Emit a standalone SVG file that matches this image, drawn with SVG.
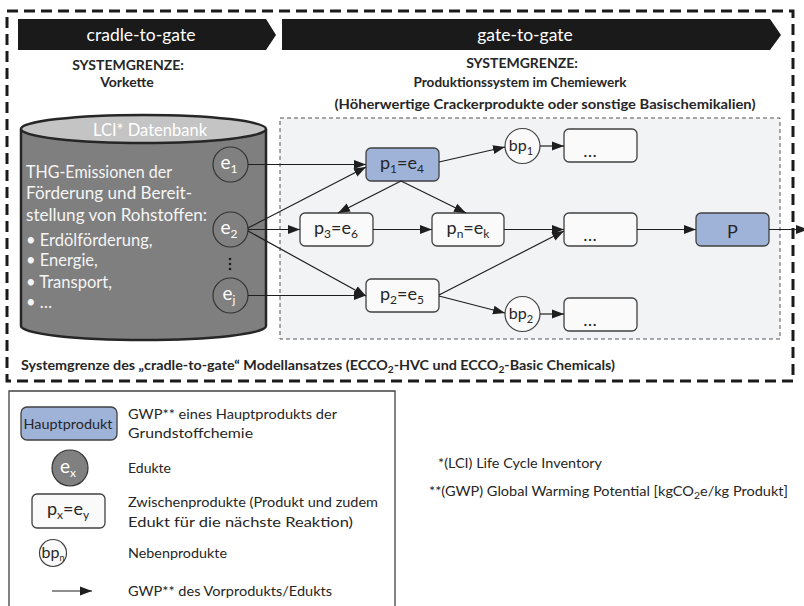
<svg xmlns="http://www.w3.org/2000/svg" width="804" height="606" viewBox="0 0 804 606">
<defs>
<marker id="ah" markerUnits="userSpaceOnUse" markerWidth="12" markerHeight="10" refX="12" refY="5" orient="auto">
<path d="M0,0.5 L12,5 L0,9.5 z" fill="#1e1e1e"/>
</marker>
<style>
text{font-family:Lato,"Open Sans","Liberation Sans",sans-serif;}
.ban{fill:#1a1a1a;}
.bant{fill:#fff;font-size:17.5px;text-anchor:middle;}
.hd{fill:#262626;font-size:14px;font-weight:bold;text-anchor:middle;}
.box{fill:#fafafa;stroke:#404040;stroke-width:1.3;}
.main{fill:#9fb3d9;stroke:#404040;stroke-width:1.3;}
.lbl{fill:#262626;font-size:18px;text-anchor:middle;}
.ecirc{fill:#808080;stroke:#333;stroke-width:1.2;}
.etxt{fill:#fff;font-size:19px;text-anchor:middle;}
.bpc{fill:#fafafa;stroke:#404040;stroke-width:1.2;}
.bpt{fill:#262626;font-size:16px;text-anchor:middle;}
.cyl{fill:#7f7f7f;stroke:#262626;stroke-width:2.5;}
.cyt{fill:#f5f5f5;font-size:16.5px;}
.con{stroke:#1e1e1e;stroke-width:1.2;fill:none;marker-end:url(#ah);}
.leg{fill:#262626;font-size:14px;}
</style>
</defs>
<rect width="804" height="606" fill="#fff"/>

<g id="frame">
<rect x="7" y="11" width="786" height="370" fill="none" stroke="#1a1a1a" stroke-width="3" stroke-dasharray="11,6"/>
</g>

<g id="banner-cradle">
<polygon class="ban" points="18,19 266,19 276,35 266,50 18,50"/>
<text class="bant" x="141" y="41">cradle-to-gate</text>
</g>
<g id="banner-gate">
<polygon class="ban" points="282,19 770,19 781,35 770,50 282,50"/>
<text class="bant" x="525" y="41">gate-to-gate</text>
</g>

<g id="label-vorkette">
<text class="hd" x="128" y="70">SYSTEMGRENZE:</text>
<text class="hd" x="127" y="87">Vorkette</text>
</g>
<g id="label-produktion">
<text class="hd" x="522" y="68">SYSTEMGRENZE:</text>
<text class="hd" x="520" y="87" textLength="213" lengthAdjust="spacingAndGlyphs">Produktionssystem im Chemiewerk</text>
<text class="hd" x="545" y="109" textLength="421" lengthAdjust="spacingAndGlyphs">(Höherwertige Crackerprodukte oder sonstige Basischemikalien)</text>
</g>

<g id="system-box">
<rect x="280" y="118" width="500" height="221" fill="#f2f3f5" stroke="#555" stroke-width="1" stroke-dasharray="4,3"/>
</g>

<g id="lci-db">
<path class="cyl" d="M21,129 L21,326 A122.5,14 0 0 0 266,326 L266,129"/>
<ellipse cx="143.5" cy="129" rx="122.5" ry="14" fill="#c4c4c4" stroke="#262626" stroke-width="2.5"/>
<text x="150" y="136" fill="#fff" font-size="16.5px" text-anchor="middle">LCI* Datenbank</text>
<text class="cyt" x="26" y="178" textLength="146" lengthAdjust="spacingAndGlyphs">THG-Emissionen der</text>
<text class="cyt" x="26" y="199" textLength="166" lengthAdjust="spacingAndGlyphs">Förderung und Bereit-</text>
<text class="cyt" x="26" y="221" textLength="181" lengthAdjust="spacingAndGlyphs">stellung von Rohstoffen:</text>
<text class="cyt" x="26" y="246">• Erdölförderung,</text>
<text class="cyt" x="26" y="266">• Energie,</text>
<text class="cyt" x="26" y="288">• Transport,</text>
<text class="cyt" x="26" y="308">• …</text>
<circle cx="230" cy="259" r="1.3" fill="#1e1e1e"/>
<circle cx="230" cy="264" r="1.3" fill="#1e1e1e"/>
<circle cx="230" cy="269" r="1.3" fill="#1e1e1e"/>
</g>

<g id="e1"><circle class="ecirc" cx="230.5" cy="164.5" r="17.5"/><text class="etxt" x="229" y="169">e<tspan dy="4" font-size="12">1</tspan></text></g>
<g id="e2"><circle class="ecirc" cx="230.5" cy="229.5" r="17.5"/><text class="etxt" x="229" y="234">e<tspan dy="4" font-size="12">2</tspan></text></g>
<g id="ej"><circle class="ecirc" cx="230.5" cy="295.5" r="17.5"/><text class="etxt" x="229" y="300">e<tspan dy="4" font-size="12">j</tspan></text></g>

<g id="p1"><rect class="main" x="366" y="148" width="73" height="33" rx="5"/><text class="lbl" x="402" y="169">p<tspan dy="4" font-size="12">1</tspan><tspan dy="-4">=e</tspan><tspan dy="4" font-size="12">4</tspan></text></g>
<g id="p3"><rect class="box" x="300" y="213" width="73" height="33" rx="5"/><text class="lbl" x="336" y="234">p<tspan dy="4" font-size="12">3</tspan><tspan dy="-4">=e</tspan><tspan dy="4" font-size="12">6</tspan></text></g>
<g id="pn"><rect class="box" x="432" y="213" width="72" height="33" rx="5"/><text class="lbl" x="468" y="234">p<tspan dy="4" font-size="12">n</tspan><tspan dy="-4">=e</tspan><tspan dy="4" font-size="12">k</tspan></text></g>
<g id="p2"><rect class="box" x="366" y="279" width="73" height="33" rx="5"/><text class="lbl" x="402" y="300">p<tspan dy="4" font-size="12">2</tspan><tspan dy="-4">=e</tspan><tspan dy="4" font-size="12">5</tspan></text></g>

<g id="bp1"><circle class="bpc" cx="522.5" cy="146" r="17.5"/><text class="bpt" x="521" y="151">bp<tspan dy="4" font-size="11">1</tspan></text></g>
<g id="bp2"><circle class="bpc" cx="522.5" cy="314" r="17.5"/><text class="bpt" x="521" y="319">bp<tspan dy="4" font-size="11">2</tspan></text></g>

<g id="x1"><rect class="box" x="564" y="129" width="73" height="33" rx="5"/><text class="lbl" x="590" y="157">…</text></g>
<g id="x2"><rect class="box" x="564" y="213" width="73" height="33" rx="5"/><text class="lbl" x="590" y="241">…</text></g>
<g id="x3"><rect class="box" x="564" y="298" width="73" height="33" rx="5"/><text class="lbl" x="590" y="326">…</text></g>

<g id="P"><rect class="main" x="696" y="213" width="73" height="33" rx="5"/><text class="lbl" x="732.5" y="238" font-size="22px">P</text></g>

<g id="connectors">
<line class="con" x1="248" y1="164.5" x2="366" y2="164.5"/>
<line class="con" x1="248" y1="228" x2="366" y2="167"/>
<line class="con" x1="248" y1="229.5" x2="300" y2="229.5"/>
<line class="con" x1="248" y1="231" x2="366" y2="296"/>
<line class="con" x1="248" y1="295.5" x2="366" y2="295.5"/>
<line class="con" x1="401" y1="181" x2="338" y2="213"/>
<line class="con" x1="401" y1="181" x2="466" y2="213"/>
<line class="con" x1="373" y1="229.5" x2="432" y2="229.5"/>
<line class="con" x1="439" y1="162" x2="505" y2="147"/>
<line class="con" x1="540" y1="146" x2="564" y2="146"/>
<line class="con" x1="504" y1="229.5" x2="564" y2="229.5"/>
<line class="con" x1="439" y1="295" x2="564" y2="231"/>
<line class="con" x1="439" y1="296" x2="505" y2="313"/>
<line class="con" x1="540" y1="314" x2="564" y2="314"/>
<line class="con" x1="637" y1="229.5" x2="696" y2="229.5"/>
<line class="con" x1="769" y1="229.5" x2="808" y2="229.5"/>
</g>

<g id="boundary-label">
<text x="21" y="370" fill="#262626" font-size="14px" font-weight="bold" textLength="594" lengthAdjust="spacingAndGlyphs">Systemgrenze des „cradle-to-gate“ Modellansatzes (ECCO<tspan dy="3" font-size="10">2</tspan><tspan dy="-3">-HVC und ECCO</tspan><tspan dy="3" font-size="10">2</tspan><tspan dy="-3">-Basic Chemicals)</tspan></text>
</g>

<g id="legend">
<path d="M9,606 L9,391 L395,391 L395,606" fill="none" stroke="#404040" stroke-width="1.3"/>
<rect class="main" x="21" y="407" width="96" height="33" rx="6"/>
<text x="68" y="429" fill="#262626" font-size="14px" text-anchor="middle" textLength="89" lengthAdjust="spacingAndGlyphs">Hauptprodukt</text>
<text class="leg" x="128" y="419" textLength="209" lengthAdjust="spacingAndGlyphs">GWP** eines Hauptprodukts der</text>
<text class="leg" x="128" y="438" textLength="125" lengthAdjust="spacingAndGlyphs">Grundstoffchemie</text>
<circle class="ecirc" cx="70" cy="468" r="18"/>
<text class="etxt" x="68" y="473">e<tspan dy="4" font-size="12">x</tspan></text>
<text class="leg" x="128" y="473" textLength="43" lengthAdjust="spacingAndGlyphs">Edukte</text>
<rect class="box" x="32" y="494" width="73" height="34" rx="5"/>
<text class="lbl" x="68" y="515">p<tspan dy="4" font-size="12">x</tspan><tspan dy="-4">=e</tspan><tspan dy="4" font-size="12">y</tspan></text>
<text class="leg" x="128" y="507" textLength="250" lengthAdjust="spacingAndGlyphs">Zwischenprodukte (Produkt und zudem</text>
<text class="leg" x="128" y="527" textLength="225" lengthAdjust="spacingAndGlyphs">Edukt für die nächste Reaktion)</text>
<circle class="bpc" cx="53" cy="553" r="13.5"/>
<text class="bpt" x="53" y="558" font-size="14px" textLength="23" lengthAdjust="spacingAndGlyphs">bp<tspan dy="3" font-size="9">n</tspan></text>
<text class="leg" x="128" y="558" textLength="99" lengthAdjust="spacingAndGlyphs">Nebenprodukte</text>
<line class="con" x1="52" y1="591" x2="92" y2="591"/>
<text class="leg" x="128" y="596" textLength="204" lengthAdjust="spacingAndGlyphs">GWP** des Vorprodukts/Edukts</text>
</g>

<g id="footnotes">
<text class="leg" x="438" y="468" textLength="164" lengthAdjust="spacingAndGlyphs">*(LCI) Life Cycle Inventory</text>
<text class="leg" x="429" y="496" textLength="359" lengthAdjust="spacingAndGlyphs">**(GWP) Global Warming Potential [kgCO<tspan dy="3" font-size="10">2</tspan><tspan dy="-3">e/kg Produkt]</tspan></text>
</g>
</svg>
